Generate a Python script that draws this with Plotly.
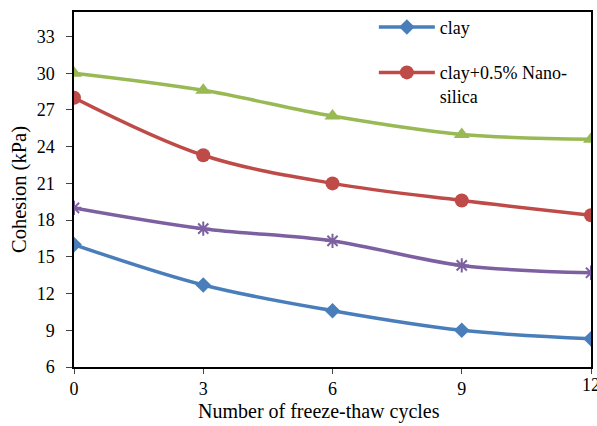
import plotly.graph_objects as go

cycles = [0, 3, 6, 9, 12]
clay = [16.0, 12.7, 10.6, 9.0, 8.3]
clay_nano05 = [28.0, 23.3, 21.0, 19.6, 18.4]
series_green = [30.0, 28.6, 26.5, 25.0, 24.6]
series_purple = [19.0, 17.3, 16.3, 14.3, 13.7]
x_ticks = [0, 3, 6, 9, 12]
y_ticks = [6, 9, 12, 15, 18, 21, 24, 27, 30, 33]

FONT = "Liberation Serif"
fig = go.Figure()

fig.add_trace(go.Scatter(
    x=cycles, y=clay, name="clay", mode="lines+markers",
    line=dict(color="#4A7EBB", width=3.5, shape="spline"),
    marker=dict(symbol="diamond", size=12, color="#4A7EBB"),
    legendgroup="a"))
fig.add_trace(go.Scatter(
    x=cycles, y=clay_nano05, name="clay+0.5% Nano-<br>silica", mode="lines+markers",
    line=dict(color="#BE4B48", width=3.5, shape="spline"),
    marker=dict(symbol="circle", size=14, color="#BE4B48"),
    legendgroup="b"))
fig.add_trace(go.Scatter(
    x=cycles, y=series_green, name="green", mode="lines+markers", showlegend=False,
    line=dict(color="#98B954", width=3.5, shape="spline"),
    marker=dict(symbol="triangle-up", size=14, color="#98B954")))
fig.add_trace(go.Scatter(
    x=cycles, y=series_purple, name="purple", mode="lines+markers", showlegend=False,
    line=dict(color="#7D60A0", width=3.5, shape="spline"),
    marker=dict(symbol="asterisk-open", size=12, color="#7D60A0",
                line=dict(color="#7D60A0", width=2))))

fig.update_layout(
    width=597, height=426,
    margin=dict(l=74, r=4, t=12, b=59),
    paper_bgcolor="white", plot_bgcolor="white",
    font=dict(family=FONT, size=16, color="black"),
    showlegend=True,
    legend=dict(x=0.58, y=1.009, xanchor="left", yanchor="top", valign="top",
                bgcolor="rgba(0,0,0,0)", font=dict(family=FONT, size=18),
                itemwidth=56, tracegroupgap=19, traceorder="grouped"),
    xaxis=dict(range=[0, 12], tickvals=x_ticks, ticks="outside", ticklen=5,
               showline=True, linecolor="black", linewidth=1.5, mirror=True,
               showgrid=False, zeroline=False,
               tickfont=dict(family=FONT, size=18)),
    yaxis=dict(range=[6, 35], tickvals=y_ticks, ticks="outside", ticklen=6,
               ticklabelstandoff=8,
               showline=True, linecolor="black", linewidth=1.5, mirror=True,
               showgrid=False, zeroline=False,
               tickfont=dict(family=FONT, size=18),
               title=dict(text="Cohesion (kPa)",
                          font=dict(family=FONT, size=20.5), standoff=4)),
    annotations=[
        dict(text="12", x=12, y=0, xref="x", yref="paper", yanchor="top",
             xanchor="center", yshift=-6, showarrow=False,
             font=dict(family=FONT, size=18)),
        dict(text="Number of freeze-thaw cycles", x=(320 - 74) / 519,
             xref="paper", y=-(411 - 367) / 355, yref="paper",
             xanchor="center", yanchor="middle", showarrow=False,
             font=dict(family=FONT, size=20)),
    ],
)

fig.write_html("out.html")
